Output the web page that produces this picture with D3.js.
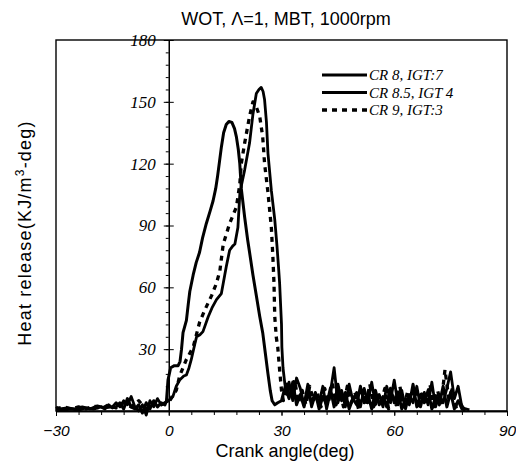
<!DOCTYPE html>
<html>

<head>
	<meta charset='utf-8' />
	<title></title>
	<script src="https://d3js.org/d3.v7.min.js"></script>
	<style>
		body {
			margin: 0;
			background: white;
		}

		.svg {
			display: block;
		}

		.sans {
			font-family: "Liberation Sans", Arial, sans-serif;
			fill: black;
		}

		.serif {
			font-family: "Liberation Serif", "Times New Roman", serif;
			font-style: italic;
			fill: black;
		}
	</style>

</head>

<body>

	<svg id="chart" class="svg" width="516" height="470"></svg>

	<script>
		// [crank angle (deg), heat release (KJ/m3-deg)]
		var cr8 = [[-30, 1], [-28, 0.5], [-26, 1], [-24, 0.5], [-22, 1.5], [-20, 1], [-18, 2], [-17, 1], [-16, 3], [-15, 1.5],
		[-14, 2], [-13, 4], [-12, 1], [-11, 6], [-10, 2], [-9, 1], [-8, 3], [-7, -1], [-6, 4], [-5, 1], [-4, 5], [-3, 2],
		[-2, 4], [-1, 3], [-0.6, 5], [-0.2, 15], [0.5, 21], [1.5, 22], [2.5, 22], [3, 24], [3.4, 30], [3.8, 38], [4.7, 44],
		[5.2, 52], [5.6, 58], [6.5, 66], [7.3, 72], [8.2, 77], [9, 84], [10, 91], [11, 97], [11.8, 102], [12.5, 108], [13, 114],
		[13.5, 121], [14, 128], [14.6, 135], [15.3, 139], [16, 140.5], [16.8, 140], [17.5, 137], [18, 133], [18.5, 127],
		[18.9, 120], [19.3, 108], [20.2, 94], [21, 83], [21.5, 77], [22.4, 66], [23.3, 56], [24.2, 46], [25, 38], [25.7, 28],
		[26.4, 18], [27, 10], [27.5, 5], [28.2, 3], [29, 4], [30, 5], [31, 12], [32, 6], [33, 14], [34, 3], [35, 8], [36, 2],
		[37, 10], [38, 4], [39, 9], [40, 1], [41, 7], [42, 3], [43, 11], [44, 2], [45, 13], [46, 5], [47, 9], [48, 1], [49, 6],
		[50, 3], [51, 12], [52, 4], [53, 8], [54, 1], [55, 10], [56, 3], [57, 7], [58, 2], [59, 11], [60, 4], [61, 9], [62, 1],
		[63, 6], [64, 3], [65, 13], [66, 2], [67, 8], [68, 4], [69, 10], [70, 1], [71, 7], [72, 3], [73, 12], [74, 2], [75, 9],
		[76, 1], [77, 5], [78, 1], [79, 0.5]];

		var cr85 = [[-30, 2], [-29, 1], [-27, 1.5], [-25, 1], [-23, 2], [-21, 1], [-19, 2.5], [-17, 1.5], [-15, 2], [-14, 4],
		[-13, 2], [-12, 5], [-11, 3], [-10, 7], [-9, 2], [-8, 0], [-7, 3], [-6, -2], [-5, 5], [-4, 2], [-3, 6], [-2, 3], [-1, 4],
		[0, 5], [1.1, 7], [2, 12], [2.9, 15], [4, 17], [4.7, 17.5], [5.4, 21], [6, 25], [7, 33], [7.4, 36], [8.3, 37],
		[9.1, 38.5], [10.5, 45.7], [11.5, 50], [12.7, 54], [14, 57], [14.5, 62], [14.9, 66], [15.3, 70], [16.2, 78], [17, 80],
		[17.6, 81], [18.4, 89], [18.9, 105], [19.4, 110], [20.2, 117], [21.5, 130], [22.4, 144], [23.3, 154], [24, 156],
		[24.6, 157], [25.1, 155], [25.5, 151], [26, 140], [26.4, 125], [27.3, 107], [28.2, 93], [28.8, 80], [29.2, 70],
		[29.5, 62], [29.8, 50], [30, 42], [30.1, 31], [30.4, 21], [30.9, 13], [31.5, 8], [32, 14], [33, 5], [34, 16], [35, 11],
		[36, 3], [37, 13], [38, 2], [39, 8], [40, 4], [41, 12], [42, 1], [43, 9], [44, 21], [45, 4], [46, 10], [47, 2], [48, 13],
		[49, 5], [50, 9], [51, 2], [52, 11], [53, 4], [54, 14], [55, 3], [56, 8], [57, 2], [58, 12], [59, 5], [60, 15], [61, 3],
		[62, 10], [63, 1], [64, 8], [65, 4], [66, 12], [67, 2], [68, 9], [69, 3], [70, 14], [71, 2], [72, 8], [73, 4], [74, 11],
		[75, 19], [76, 6], [77, 12], [78, 2], [79, 1], [80, 0.5]];

		var cr9 = [[-30, 1], [-28, 2], [-26, 1], [-24, 2], [-22, 1], [-20, 2.5], [-18, 1], [-16, 3], [-14, 1.5], [-12, 4],
		[-10, 2], [-8, 5], [-6, 1], [-4, 4], [-2, 3], [0.3, 5], [1.2, 8], [2, 10], [2.9, 17], [4.7, 25], [6.5, 31], [7.5, 38],
		[8.2, 43], [9.6, 49], [11.4, 56], [12.7, 62], [13.6, 68], [14.5, 81], [16.2, 91], [18, 99], [18.9, 110], [19.3, 120],
		[20.2, 130], [21.5, 143], [22.4, 150], [23.2, 148], [24.2, 143], [25, 133], [25.5, 120], [26.4, 106], [27.3, 89],
		[27.7, 75], [28, 62], [28.2, 46], [28.6, 36], [29, 31], [29.5, 20], [30, 10], [30.5, 5], [31.5, 13], [32.5, 6],
		[33.5, 15], [34.5, 4], [35.5, 10], [36.5, 3], [37.5, 12], [38.5, 5], [39.5, 9], [40.5, 2], [41.5, 11], [42.5, 4],
		[43.5, 14], [44.5, 3], [45.5, 10], [46.5, 2], [47.5, 12], [48.5, 4], [49.5, 8], [50.5, 1], [51.5, 10], [52.5, 3],
		[53.5, 13], [54.5, 2], [55.5, 9], [56.5, 4], [57.5, 11], [58.5, 1], [59.5, 8], [60.5, 3], [61.5, 12], [62.5, 2],
		[63.5, 9], [64.5, 5], [65.5, 11], [66.5, 1], [67.5, 9], [68.5, 3], [69.5, 13], [70.5, 2], [71.5, 10], [72.5, 4],
		[73.5, 20], [74.5, 6], [75.5, 11], [76.5, 2], [77.5, 4], [78.5, 1]];

		var seriesNames = ["CR 8, IGT:7", "CR 8.5, IGT 4", "CR 9, IGT:3"];
		var xTicks = [-30, 0, 30, 60, 90];
		var yTicks = [30, 60, 90, 120, 150, 180];

		var svg = d3.select("#chart"),
			margin = { top: 40, left: 56, bottom: 59, right: 9 },
			width = +svg.attr("width"),
			height = +svg.attr("height");

		var x = d3.scaleLinear()
			.domain([-30, 90])
			.range([margin.left, width - margin.right])

		var y = d3.scaleLinear()
			.domain([0, 180])
			.range([height - margin.bottom, margin.top])

		// frame
		svg.append("rect")
			.attr("x", x(-30))
			.attr("y", y(180))
			.attr("width", x(90) - x(-30))
			.attr("height", y(0) - y(180))
			.attr("fill", "none")
			.attr("stroke", "black")
			.attr("stroke-width", 1.4)

		// curves
		var line = d3.line()
			.x(d => x(d[0]))
			.y(d => y(d[1]))

		var series = [
			{ data: cr8, dash: null, w: 3 },
			{ data: cr85, dash: null, w: 2.8 },
			{ data: cr9, dash: "5,5", w: 3.3 }
		]

		svg.append("g").selectAll("path")
			.data(series)
			.enter().append("path")
			.attr("d", d => line(d.data))
			.attr("fill", "none")
			.attr("stroke", "black")
			.attr("stroke-width", d => d.w)
			.attr("stroke-linejoin", "round")
			.attr("stroke-dasharray", d => d.dash)

		// x axis
		svg.append("g")
			.attr("transform", `translate(0,${y(0)})`)
			.call(d3.axisBottom(x).tickValues(d3.range(-30, 91, 6)).tickSize(4).tickFormat("").tickSizeOuter(0))

		svg.append("g")
			.attr("transform", `translate(0,${y(0)})`)
			.call(d3.axisBottom(x).tickValues(xTicks).tickSize(5).tickPadding(9).tickSizeOuter(0))
			.call(g => g.selectAll("text")
				.attr("class", "sans")
				.style("font-style", "italic")
				.style("font-size", "15.5px"))

		// y axis at 0 deg
		svg.append("g")
			.attr("transform", `translate(${x(0)},0)`)
			.call(d3.axisLeft(y).tickValues(d3.range(0, 181, 6)).tickSize(3).tickFormat("").tickSizeOuter(0))

		svg.append("g")
			.attr("transform", `translate(${x(0)},0)`)
			.call(d3.axisRight(y).tickValues(yTicks).tickSize(5).tickFormat("").tickSizeOuter(0))
			.call(g => g.select(".domain").remove())

		svg.append("g")
			.attr("transform", `translate(${x(0)},0)`)
			.call(d3.axisLeft(y).tickValues(yTicks).tickSize(5).tickPadding(8).tickSizeOuter(0))
			.call(g => g.select(".domain").remove())
			.call(g => g.selectAll("text")
				.attr("class", "serif")
				.style("font-size", "17px"))

		svg.selectAll(".domain").attr("stroke-width", 1.5)

		// titles
		svg.append("text")
			.attr("class", "sans")
			.attr("x", 286).attr("y", 25)
			.attr("text-anchor", "middle")
			.style("font-size", "18px")
			.text("WOT, \u039B=1, MBT, 1000rpm")

		svg.append("text")
			.attr("class", "sans")
			.attr("x", 285).attr("y", 457)
			.attr("text-anchor", "middle")
			.style("font-size", "18px")
			.text("Crank angle(deg)")

		var ylab = svg.append("text")
			.attr("class", "sans")
			.attr("transform", "translate(31,233) rotate(-90)")
			.attr("text-anchor", "middle")
			.style("font-size", "18px")
			.style("letter-spacing", "1.2px")
		ylab.append("tspan").text("Heat release(KJ/m")
		ylab.append("tspan").attr("dy", -7).style("font-size", "12px").text("3")
		ylab.append("tspan").attr("dy", 7).text("-deg)")

		// legend
		var legend = svg.append("g")
			.selectAll("g")
			.data(seriesNames)
			.enter().append("g")
			.attr("transform", (d, i) => "translate(322," + (75 + i * 17.5) + ")")

		legend.append("line")
			.attr("x1", 0).attr("x2", 45)
			.attr("stroke", "black")
			.attr("stroke-width", (d, i) => series[i].w)
			.attr("stroke-dasharray", (d, i) => series[i].dash)

		legend.append("text")
			.attr("class", "serif")
			.attr("x", 47)
			.attr("y", 5)
			.style("font-size", "15px")
			.text(d => d)

	</script>

</body>

</html>
